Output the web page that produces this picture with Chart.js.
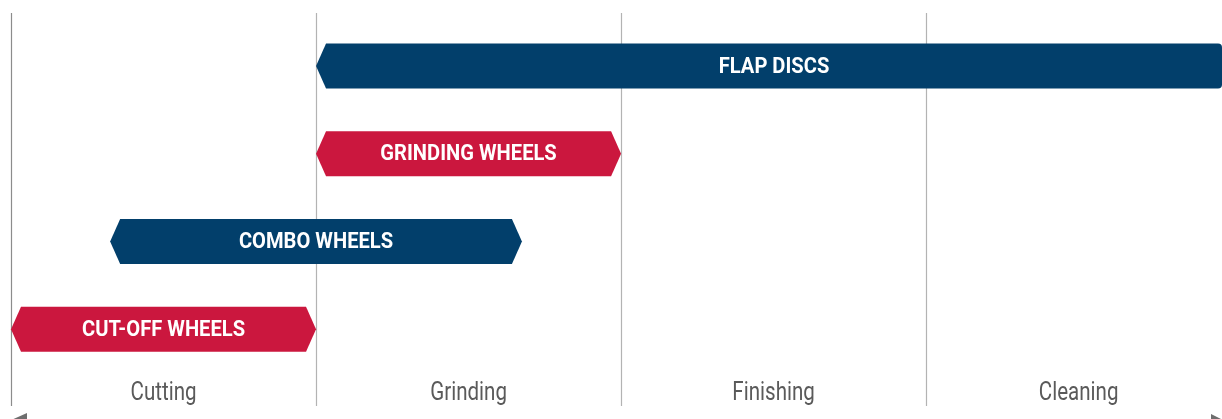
<!DOCTYPE html>
<html>
<head>
<meta charset="utf-8">
<script src="https://cdn.jsdelivr.net/npm/chart.js@4.4.1/dist/chart.umd.min.js"></script>
<style>
html,body{margin:0;padding:0;background:#fff;}
#wrap{width:1222px;height:419px;position:relative;}
</style>
</head>
<body>
<div id="wrap"><canvas id="c" width="1222" height="419"></canvas></div>
<script>
const categories = ['FLAP DISCS', 'GRINDING WHEELS', 'COMBO WHEELS', 'CUT-OFF WHEELS'];
const barStarts = [1, 1, 0.325, 0];
const barEnds = [3.97, 2, 1.675, 1];
const barColors = ['#023f6b', '#cb173e', '#023f6b', '#cb173e'];
const stageLabels = ['Cutting', 'Grinding', 'Finishing', 'Cleaning'];
const stageCenters = [0.5, 1.5, 2.5, 3.5];
const stageBoundaries = [0, 1, 2, 3];
const X_MAX = 3.97;

const FONT = 'Roboto, "Liberation Sans", sans-serif';

function narrowText(ctx, text, x, y, sx) {
  ctx.save();
  ctx.translate(x, y);
  ctx.scale(sx, 1);
  ctx.fillText(text, 0, 0);
  ctx.restore();
}

const arrowBars = {
  id: 'arrowBars',
  beforeDatasetDraw(chart, args) {
    const meta = args.meta;
    const ctx = chart.ctx;
    const xs = chart.scales.x;
    const rightLimit = xs.getPixelForValue(X_MAX);
    const notch = 10;
    ctx.save();
    meta.data.forEach((el, i) => {
      const p = el.getProps(['x', 'y', 'base', 'height'], true);
      const left = Math.min(p.x, p.base), right = Math.max(p.x, p.base);
      const top = p.y - p.height / 2, bot = p.y + p.height / 2;
      const openRight = right >= rightLimit - 0.5;
      ctx.fillStyle = barColors[i];
      ctx.beginPath();
      ctx.moveTo(left, p.y);
      ctx.lineTo(left + notch, top);
      if (openRight) {
        const r = 4;
        ctx.lineTo(right - r, top);
        ctx.quadraticCurveTo(right, top, right, top + r);
        ctx.lineTo(right, bot - r);
        ctx.quadraticCurveTo(right, bot, right - r, bot);
      } else {
        ctx.lineTo(right - notch, top);
        ctx.lineTo(right, p.y);
        ctx.lineTo(right - notch, bot);
      }
      ctx.lineTo(left + notch, bot);
      ctx.closePath();
      ctx.fill();
      const bodyL = left + notch, bodyR = openRight ? right : right - notch;
      ctx.fillStyle = '#ffffff';
      ctx.font = 'bold 22.5px ' + FONT;
      ctx.textAlign = 'center';
      ctx.textBaseline = 'middle';
      narrowText(ctx, chart.data.labels[i], (bodyL + bodyR) / 2, p.y + 1, 0.895);
    });
    ctx.restore();
    return false;
  }
};

const frame = {
  id: 'frame',
  beforeDatasetsDraw(chart) {
    const ctx = chart.ctx;
    const xs = chart.scales.x;
    ctx.save();
    ctx.lineWidth = 1.2;
    stageBoundaries.forEach((v, i) => {
      const px = Math.round(xs.getPixelForValue(v)) + 0.5;
      ctx.strokeStyle = i === 0 ? '#8c8c8c' : '#b3b3b3';
      ctx.beginPath();
      ctx.moveTo(px, 13);
      ctx.lineTo(px, 406);
      ctx.stroke();
    });
    // stage labels from the x scale's ticks
    ctx.fillStyle = '#5a5a5a';
    ctx.font = '26px ' + FONT;
    ctx.textAlign = 'center';
    ctx.textBaseline = 'middle';
    xs.ticks.forEach((t, i) => {
      narrowText(ctx, t.label, xs.getPixelForTick(i), 393, 0.79);
    });
    // bottom double arrow (mostly below the visible edge)
    const y = 421;
    const l = xs.getPixelForValue(0) - 2, r = chart.width + 3;
    ctx.strokeStyle = '#6e6e6e';
    ctx.lineWidth = 2;
    ctx.beginPath(); ctx.moveTo(l, y); ctx.lineTo(r, y); ctx.stroke();
    ctx.fillStyle = '#6e6e6e';
    ctx.beginPath(); ctx.moveTo(l, y); ctx.lineTo(l + 18, y - 8); ctx.lineTo(l + 18, y + 8); ctx.closePath(); ctx.fill();
    ctx.beginPath(); ctx.moveTo(r, y); ctx.lineTo(r - 14, y - 7); ctx.lineTo(r - 14, y + 7); ctx.closePath(); ctx.fill();
    ctx.restore();
  }
};

new Chart(document.getElementById('c'), {
  type: 'bar',
  data: {
    labels: categories,
    datasets: [{
      data: barStarts.map((s, i) => [s, barEnds[i]]),
      backgroundColor: barColors,
      barThickness: 45
    }]
  },
  options: {
    indexAxis: 'y',
    responsive: false,
    animation: false,
    layout: { padding: { left: 11, right: 0, top: 22, bottom: 38 } },
    plugins: { legend: { display: false }, tooltip: { enabled: false } },
    scales: {
      y: { display: false },
      x: {
        type: 'linear',
        min: 0,
        max: X_MAX,
        grid: { display: false },
        border: { display: false },
        afterBuildTicks(scale) { scale.ticks = stageCenters.map(v => ({ value: v })); },
        ticks: {
          display: false,
          autoSkip: false,
          callback(value, index) { return stageLabels[index]; }
        }
      }
    }
  },
  plugins: [frame, arrowBars]
});
</script>
</body>
</html>
